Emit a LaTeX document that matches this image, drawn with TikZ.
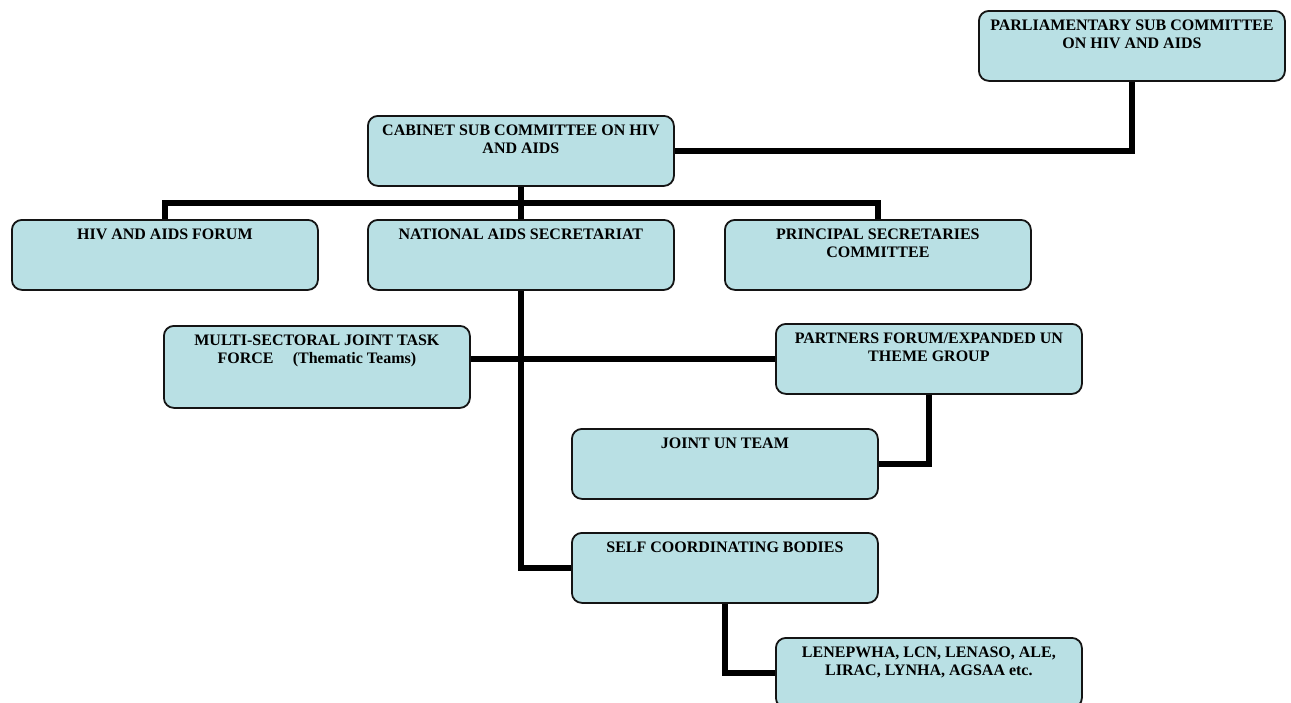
\documentclass[tikz,border=0pt]{standalone}
\usepackage{fontspec}
\setmainfont{Liberation Serif}
\usetikzlibrary{calc}

\definecolor{boxfill}{RGB}{185,224,228}
\definecolor{boxline}{RGB}{20,20,20}

% Box contents: text hung from the top edge of a fixed-height box
\newcommand{\orgtext}[2][70pt]{\parbox[t][#1][t]{296pt}{\centering
  \fontsize{16}{18}\selectfont\bfseries\rule{0pt}{20pt}#2}}

\tikzset{
  orgbox/.style={draw=boxline, line width=1.8pt, rounded corners=10pt,
    fill=boxfill, inner xsep=5pt, inner ysep=0pt, anchor=north west},
  link/.style={draw=black, line width=6pt, line join=miter}
}

\begin{document}
\begin{tikzpicture}[x=1pt,y=-1pt]
\useasboundingbox (0,0) rectangle (1291,702);
\clip (0,0) rectangle (1291,702);

\node[orgbox] (parl) at (978,10) {\orgtext{PARLIAMENTARY SUB COMMITTEE\\ON HIV AND AIDS}};
\node[orgbox] (cab) at (367,115) {\orgtext{CABINET SUB COMMITTEE ON HIV\\AND AIDS}};
\node[orgbox] (hiv) at (11,219) {\orgtext{HIV AND AIDS FORUM}};
\node[orgbox] (nas) at (367,219) {\orgtext{NATIONAL AIDS SECRETARIAT}};
\node[orgbox] (psc) at (724,219) {\orgtext{PRINCIPAL SECRETARIES\\COMMITTEE}};
\node[orgbox] (multi) at (163,325) {\orgtext[82pt]{MULTI-SECTORAL JOINT TASK\\FORCE\hspace{1.2em}(Thematic Teams)}};
\node[orgbox] (partners) at (775,323) {\orgtext{PARTNERS FORUM/EXPANDED UN\\THEME GROUP}};
\node[orgbox] (jun) at (571,428) {\orgtext{JOINT UN TEAM}};
\node[orgbox] (self) at (571,532) {\orgtext{SELF COORDINATING BODIES}};
\node[orgbox] (len) at (775,637) {\orgtext{LENEPWHA, LCN, LENASO, ALE,\\LIRAC, LYNHA, AGSAA etc.}};

% bus bar between the cabinet committee and the second row
\coordinate (busbar) at ($(cab.south)!0.5!(nas.north)$);

\draw[link] (cab.east) -| (parl.south);
\draw[link] (cab.south) -- (nas.north);
\draw[link] (hiv.north) |- (busbar) -| (psc.north);
\draw[link] (nas.south) |- (self.west);
\draw[link] (multi.east |- partners.west) -- (partners.west);
\draw[link] (partners.south) |- (jun.east);
\draw[link] (self.south) |- (len.west);
\end{tikzpicture}
\end{document}
